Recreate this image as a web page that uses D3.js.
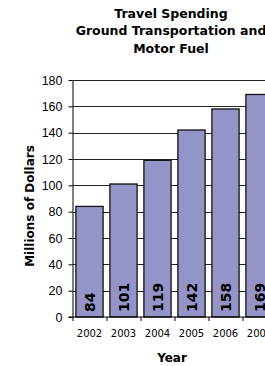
<!DOCTYPE html>
<html>
<head>
<meta charset="utf-8">
<script src="https://cdn.jsdelivr.net/npm/d3@7"></script>
<style>
  body { margin: 0; background: #fff; }
  svg { display: block; font-family: "DejaVu Sans", Verdana, sans-serif; }
</style>
</head>
<body>
<div id="chart"></div>
<script>
// data
var years = ["2002", "2003", "2004", "2005", "2006", "2007"];
var spending = [84, 101, 119, 142, 158, 169];
var yTicks = [0, 20, 40, 60, 80, 100, 120, 140, 160, 180];
var titleLines = ["Travel Spending", "Ground Transportation and", "Motor Fuel"];

// plot area (runs past the right edge of the window, like the reference)
var margin = {top: 80, left: 72.5},
    plotWidth = 204,
    plotHeight = 237;

var svg = d3.select("#chart").append("svg")
    .attr("width", 265)
    .attr("height", 366);

var x = d3.scaleBand().domain(years).range([0, plotWidth]).paddingInner(0.2).paddingOuter(0.1);
var y = d3.scaleLinear().domain([0, 180]).range([plotHeight, 0]);

var g = svg.append("g")
    .attr("transform", "translate(" + margin.left + "," + margin.top + ")");

// title
svg.append("text")
    .attr("text-anchor", "middle")
    .style("font-weight", "bold")
    .style("font-size", "12.5px")
    .selectAll("tspan")
    .data(titleLines)
    .enter().append("tspan")
    .attr("x", 171)
    .attr("y", function(d, i) { return 17.5 + i * 17.5; })
    .text(function(d) { return d; });

// gridlines
g.selectAll(".grid")
    .data(yTicks.slice(1))
    .enter().append("line")
    .attr("class", "grid")
    .attr("x1", 0)
    .attr("x2", plotWidth)
    .attr("y1", function(d) { return Math.round(y(d)) + 0.5; })
    .attr("y2", function(d) { return Math.round(y(d)) + 0.5; })
    .attr("stroke", "#222")
    .attr("stroke-width", 1);

// bars
g.selectAll(".bar")
    .data(spending)
    .enter().append("rect")
    .attr("class", "bar")
    .attr("x", function(d, i) { return x(years[i]); })
    .attr("width", x.bandwidth())
    .attr("y", function(d) { return y(d); })
    .attr("height", function(d) { return plotHeight - y(d); })
    .attr("fill", "#9494c8")
    .attr("stroke", "#111")
    .attr("stroke-width", 1.3);

// value labels, rotated inside the bars
g.selectAll(".val")
    .data(spending)
    .enter().append("text")
    .attr("class", "val")
    .attr("transform", function(d, i) {
        return "translate(" + (x(years[i]) + x.bandwidth() / 2) + "," + (plotHeight - 5) + ") rotate(-90)";
    })
    .attr("dy", "0.36em")
    .style("font-weight", "bold")
    .style("font-size", "14px")
    .attr("fill", "#000")
    .text(function(d) { return d; });

// y axis
var yAxis = g.append("g")
    .call(d3.axisLeft(y).tickValues(yTicks).tickSize(4).tickSizeOuter(0));
yAxis.select(".domain").attr("stroke", "#000");
yAxis.selectAll("text").style("font-size", "12.5px").attr("fill", "#000").attr("x", -10);

// x axis with ticks on category boundaries
var xAxisG = g.append("g")
    .attr("transform", "translate(0," + plotHeight + ")");
xAxisG.append("line")
    .attr("x1", -4).attr("x2", plotWidth)
    .attr("y1", 0).attr("y2", 0)
    .attr("stroke", "#000");
xAxisG.selectAll(".xt")
    .data(d3.range(years.length + 1))
    .enter().append("line")
    .attr("class", "xt")
    .attr("x1", function(i) { return Math.round(i * x.step()) + 0.5; })
    .attr("x2", function(i) { return Math.round(i * x.step()) + 0.5; })
    .attr("y1", 0).attr("y2", 4)
    .attr("stroke", "#000");
xAxisG.selectAll(".xl")
    .data(years)
    .enter().append("text")
    .attr("class", "xl")
    .attr("x", function(d) { return x(d) + x.bandwidth() / 2; })
    .attr("y", 19.5)
    .attr("text-anchor", "middle")
    .style("font-size", "10px")
    .text(function(d) { return d; });

// axis titles
svg.append("text")
    .attr("x", 172)
    .attr("y", 362)
    .attr("text-anchor", "middle")
    .style("font-weight", "bold")
    .style("font-size", "12px")
    .text("Year");

svg.append("text")
    .attr("transform", "translate(34,206) rotate(-90)")
    .attr("text-anchor", "middle")
    .style("font-weight", "bold")
    .style("font-size", "12px")
    .text("Millions of Dollars");
</script>
</body>
</html>
